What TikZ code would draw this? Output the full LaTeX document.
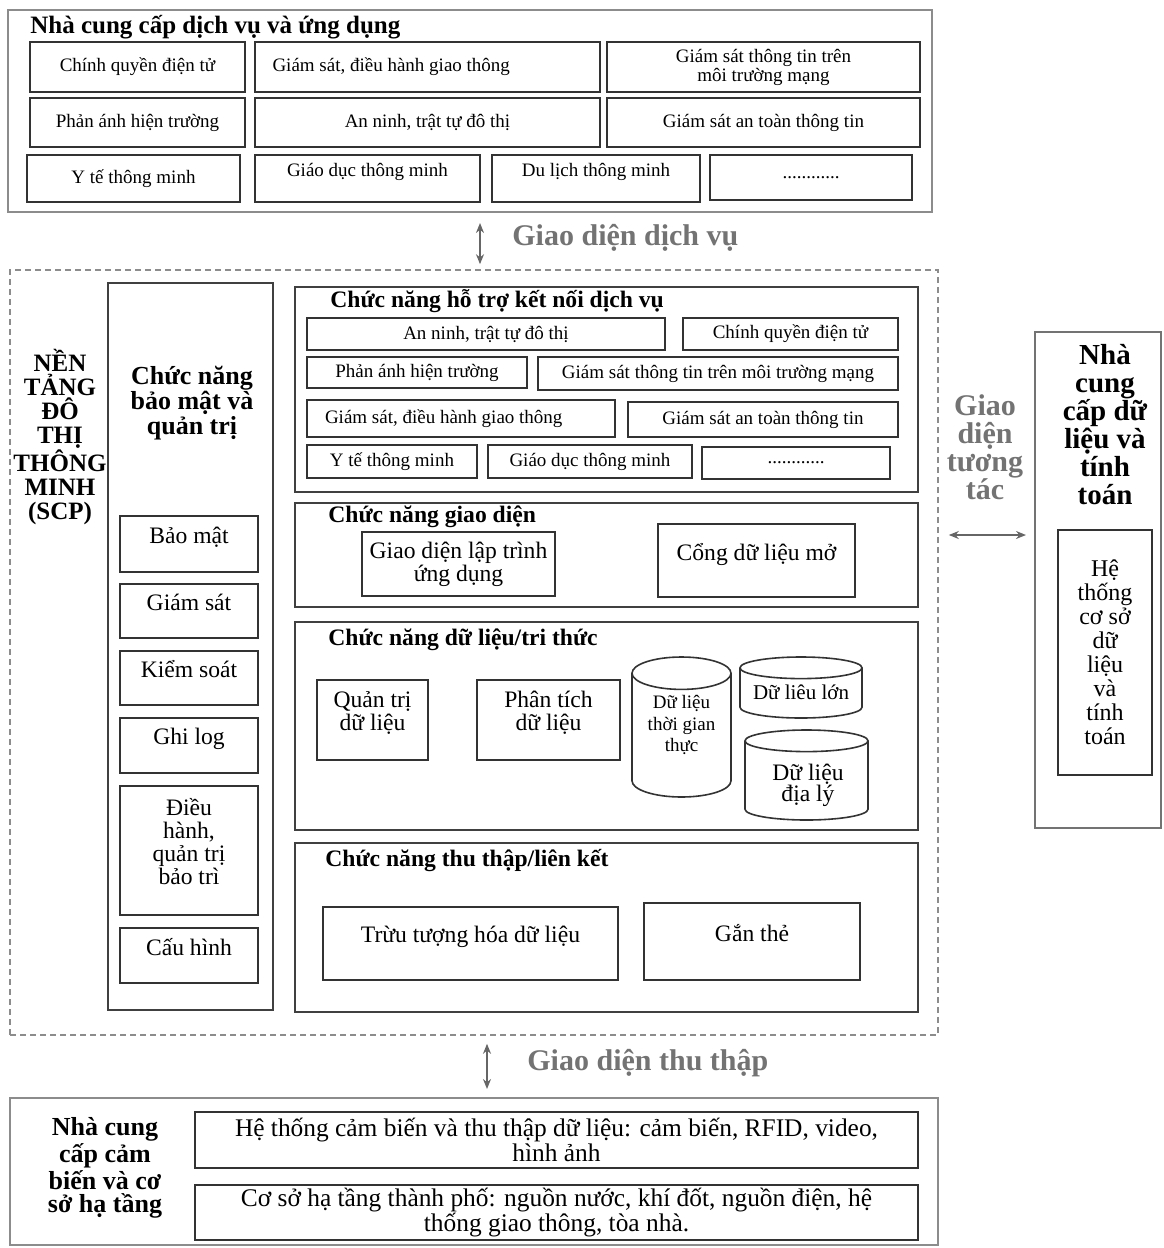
\documentclass[tikz,border=0pt]{standalone}
\usepackage{fontspec}
\setmainfont{Liberation Serif}
\usetikzlibrary{arrows.meta, positioning, shapes.geometric, fit}

\begin{document}
\begin{tikzpicture}[
            x=0.5pt, y=-0.5pt,
            box/.style={draw=black!80, line width=0.8pt, inner sep=0pt, align=center, font=\fontsize{9.5}{9.5}\selectfont},
            mbox/.style={box, font=\fontsize{11.8}{11.5}\selectfont},
            lbox/.style={box, align=flush left, text width=#1},
            func/.style={draw=black!75, line width=1.3pt, inner sep=0pt},
            outer/.style={draw=black!45, line width=1pt, inner sep=0pt},
            hd/.style={font=\fontsize{11.8}{13}\selectfont\bfseries, anchor=west, inner sep=0pt},
            big/.style={font=\fontsize{12.5}{12}\selectfont\bfseries, align=center, inner sep=0pt},
            iface/.style={text=black!55, font=\fontsize{15}{14}\selectfont\bfseries, align=center, inner sep=0pt},
            dbl/.style={{Stealth[length=5pt,width=4pt]}-{Stealth[length=5pt,width=4pt]}, draw=black!60, line width=0.8pt},
            db/.style={draw=black!80, line width=0.8pt, cylinder, shape border rotate=90, aspect=0.45, inner sep=0pt, text width=36pt, anchor=shape center},
            dbt/.style={align=center, inner sep=0pt},
            hi/.style={text depth=9pt}
        ]
            \useasboundingbox (0,0) rectangle (1163,1248);
            % service and application providers
            \node[outer, fit={(8,10) (932,212)}] (svc) {};
            \node[hd, font=\fontsize{12.5}{13}\selectfont\bfseries] (svct) at (30,27) {Nhà cung cấp dịch vụ và ứng dụng};
            \node[box, minimum width=107.5pt, minimum height=25pt] (s1) at (137.5,67) {Chính quyền điện tử};
            \node[lbox=155pt, minimum width=172.5pt, minimum height=25pt] (s2) at (427.5,67) {Giám sát, điều hành giao thông};
            \node[box, minimum width=156.5pt, minimum height=25pt] (s3) at (763.5,67) {Giám sát thông tin trên\\môi trường mạng};
            \node[box, minimum width=107.5pt, minimum height=24.5pt] (s4) at (137.5,122.5) {Phản ánh hiện trường};
            \node[box, minimum width=172.5pt, minimum height=24.5pt] (s5) at (427.5,122.5) {An ninh, trật tự đô thị};
            \node[box, minimum width=156.5pt, minimum height=24.5pt] (s6) at (763.5,122.5) {Giám sát an toàn thông tin};
            \node[box, minimum width=106.5pt, minimum height=23.5pt] (s7) at (133.5,178.5) {Y tế thông minh};
            \node[box, hi, minimum width=112.5pt, minimum height=23.5pt] (s8) at (367.5,178.5) {Giáo dục thông minh};
            \node[box, hi, minimum width=104pt, minimum height=23.5pt] (s9) at (596,178.5) {Du lịch thông minh};
            \node[box, minimum width=101pt, minimum height=22.5pt] (s10) at (811,177.5) {............};

            % smart city platform
            \node[draw=black!45, dash pattern=on 3pt off 2pt, line width=0.8pt, inner sep=0pt, fit={(10,270) (938,1035)}] (scp) {};
            \node[big] (scpt) at (60,437) {NỀN\\TẢNG\\ĐÔ\\THỊ\\THÔNG\\MINH\\(SCP)};

            \node[func, fit={(108,283) (273,1010)}] (sec) {};
            \node[big, font=\fontsize{13}{12.5}\selectfont\bfseries] (sect) at (192,403) {Chức năng\\bảo mật và\\quản trị};
            \node[mbox, hi, minimum width=69pt, minimum height=28pt] (m1) at (189,544) {Bảo mật};
            \node[mbox, hi, minimum width=69pt, minimum height=27pt] (m2) at (189,611) {Giám sát};
            \node[mbox, hi, minimum width=69pt, minimum height=27pt] (m3) at (189,678) {Kiểm soát};
            \node[mbox, hi, minimum width=69pt, minimum height=27.5pt] (m4) at (189,745.5) {Ghi log};
            \node[mbox, hi, minimum width=69pt, minimum height=64.5pt] (m5) at (189,850.5) {Điều\\hành,\\quản trị\\bảo trì};
            \node[mbox, hi, minimum width=69pt, minimum height=27.5pt] (m6) at (189,955.5) {Cấu hình};

            \node[func, fit={(295,287) (918,492)}] (f1) {};
            \node[hd] (f1t) at (330,301) {Chức năng hỗ trợ kết nối dịch vụ};
            \node[box, minimum width=179pt, minimum height=16pt] (i1) at (486,334) {An ninh, trật tự đô thị};
            \node[box, minimum width=107.5pt, minimum height=16pt] (i2) at (790.5,334) {Chính quyền điện tử};
            \node[box, minimum width=110pt, minimum height=15.5pt] (i3) at (417,372.5) {Phản ánh hiện trường};
            \node[box, minimum width=180pt, minimum height=16.5pt] (i4) at (718,373.5) {Giám sát thông tin trên môi trường mạng};
            \node[lbox=136pt, minimum width=154pt, minimum height=18.5pt] (i5) at (461,418.5) {Giám sát, điều hành giao thông};
            \node[box, minimum width=135pt, minimum height=17.5pt] (i6) at (763,419.5) {Giám sát an toàn thông tin};
            \node[box, minimum width=85pt, minimum height=16.5pt] (i7) at (392,461.5) {Y tế thông minh};
            \node[box, minimum width=102pt, minimum height=16.5pt] (i8) at (590,461.5) {Giáo dục thông minh};
            \node[box, minimum width=94pt, minimum height=16pt] (i9) at (796,463) {............};

            \node[func, fit={(295,503) (918,607)}] (f2) {};
            \node[hd] (f2t) at (328,517) {Chức năng giao diện};
            \node[mbox, minimum width=96.5pt, minimum height=32pt] (g1) at (458.5,564) {Giao diện lập trình\\ứng dụng};
            \node[mbox, hi, minimum width=98.5pt, minimum height=36.5pt] (g2) at (756.5,560.5) {Cổng dữ liệu mở};

            \node[func, fit={(295,622) (918,830)}] (f3) {};
            \node[hd] (f3t) at (328,640) {Chức năng dữ liệu/tri thức};
            \node[mbox, hi, minimum width=55.5pt, minimum height=40pt] (k1) at (372.5,720) {Quản trị\\dữ liệu};
            \node[mbox, hi, minimum width=71.5pt, minimum height=40pt] (k2) at (548.5,720) {Phân tích\\dữ liệu};
            \node[db, minimum width=49.5pt, minimum height=70pt] (c1) at (681.5,727) {};
            \node[db, aspect=0.3, minimum width=61pt, minimum height=30.5pt] (c2) at (801,687.5) {};
            \node[db, aspect=0.3, minimum width=61.5pt, minimum height=45pt] (c3) at (806.5,775) {};
            \node[dbt, font=\fontsize{9.5}{10.8}\selectfont] (c1t) at (681.5,725) {Dữ liệu\\thời gian\\thực};
            \node[dbt, font=\fontsize{10.5}{11}\selectfont] (c2t) at (801,692) {Dữ liêu lớn};
            \node[dbt, font=\fontsize{11.8}{10.5}\selectfont] (c3t) at (808,785) {Dữ liệu\\địa lý};

            \node[func, fit={(295,843) (918,1012)}] (f4) {};
            \node[hd] (f4t) at (325,861) {Chức năng thu thập/liên kết};
            \node[mbox, hi, minimum width=147.5pt, minimum height=36.5pt] (t1) at (470.5,943.5) {Trừu tượng hóa dữ liệu};
            \node[mbox, hi, minimum width=108pt, minimum height=38.5pt] (t2) at (752,941.5) {Gắn thẻ};

            % data and computing provider
            \node[draw=black!55, line width=1pt, inner sep=0pt, fit={(1035,332) (1161,828)}] (prov) {};
            \node[big, font=\fontsize{14.5}{14}\selectfont\bfseries] (provt) at (1105,425) {Nhà\\cung\\cấp dữ\\liệu và\\tính\\toán};
            \node[mbox, font=\fontsize{12}{12}\selectfont, minimum width=47pt, minimum height=122.5pt] (hdb) at (1105,652.5) {Hệ\\thống\\cơ sở\\dữ\\liệu\\và\\tính\\toán};

            % sensor and infrastructure providers
            \node[outer, fit={(10,1098) (938,1245)}] (bot) {};
            \node[big, font=\fontsize{13}{11.7}\selectfont\bfseries] (bott) at (105,1168) {Nhà cung\\cấp cảm\\biến và cơ\\sở hạ tầng};
            \node[mbox, font=\fontsize{12.7}{11.3}\selectfont, minimum width=361.5pt, minimum height=28pt] (b1) at (556.5,1140) {Hệ thống cảm biến và thu thập dữ liệu: cảm biến, RFID, video,\\hình ảnh};
            \node[mbox, font=\fontsize{12.7}{11.5}\selectfont, minimum width=361.5pt, minimum height=27.5pt] (b2) at (556.5,1212.5) {Cơ sở hạ tầng thành phố: nguồn nước, khí đốt, nguồn điện, hệ\\thống giao thông, tòa nhà.};

            % interfaces
            \node[iface, anchor=west] (gdv) at (512,238) {Giao diện dịch vụ};
            \node[iface, anchor=west] (gdt) at (527,1063) {Giao diện thu thập};
            \node[iface] (gdtt) at (985,447) {Giao\\diện\\tương\\tác};
            \coordinate (ax1) at (480,0);
            \coordinate (ax2) at (487,0);
            \coordinate (ay1) at (0,535);
            \draw[dbl, shorten <=5pt, shorten >=2.5pt] (svc.south -| ax1) -- (scp.north -| ax1);
            \draw[dbl, shorten <=4pt, shorten >=4pt] (scp.south -| ax2) -- (bot.north -| ax2);
            \draw[dbl, shorten <=5pt, shorten >=4pt] (scp.east |- ay1) -- (prov.west |- ay1);
        \end{tikzpicture}
\end{document}
